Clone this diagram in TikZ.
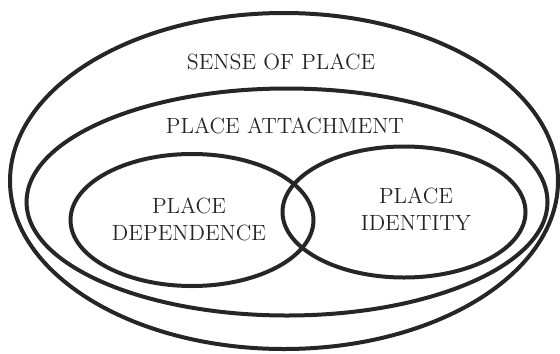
\documentclass[tikz,border=0pt]{standalone}
\usepackage{tikz}
\usetikzlibrary{shapes.geometric}

\tikzset{
  ring/.style = {draw = black!85, ellipse, line width = 2pt, inner sep = 0pt},
  label/.style = {font = \fontsize{11}{13.5}\selectfont, align = center, text = black!85}
}

\begin{document}
\begin{tikzpicture}[x = 0.5pt, y = -0.5pt]
  \useasboundingbox (0,0) rectangle (560,353);

  \node[ring, minimum width = 274pt, minimum height = 168pt] (sense) at (284,181) {};
  \node[ring, minimum width = 260.5pt, minimum height = 113.5pt] (attach) at (287,202) {};
  \node[ring, minimum width = 121.5pt, minimum height = 66pt] (depend) at (192,220) {};
  \node[ring, minimum width = 121.5pt, minimum height = 65.5pt] (ident) at (404,212) {};

  \node[label] (senseText) at (281,62) {SENSE OF PLACE};
  \node[label] (attachText) at (285,126) {PLACE ATTACHMENT};
  \node[label] (dependText) at (189,219) {PLACE\\DEPENDENCE};
  \node[label] (identText) at (416,209) {PLACE\\IDENTITY};

\end{tikzpicture}
\end{document}
